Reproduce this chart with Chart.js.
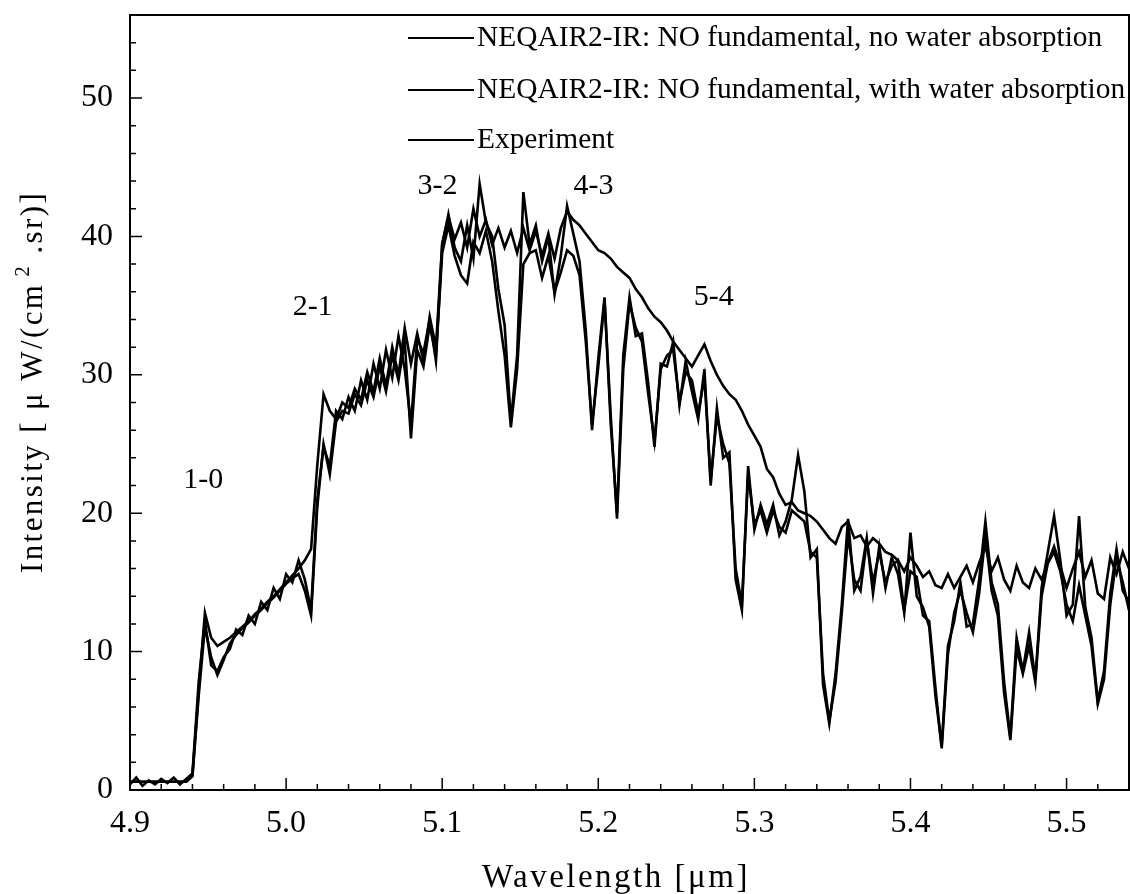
<!DOCTYPE html>
<html>
<head>
<meta charset="utf-8">
<script src="https://cdn.jsdelivr.net/npm/chart.js@4.4.0/dist/chart.umd.min.js"></script>
<style>
  html, body { margin: 0; padding: 0; background: #fff; }
  #wrap { width: 1130px; height: 894px; }
</style>
</head>
<body>
<div id="wrap"><canvas id="spectrumChart" width="1130" height="894"></canvas></div>
<script>
// Wavelength grid [um]
const wavelength = [
    4.900, 4.904, 4.908, 4.912, 4.916, 4.920, 4.924, 4.928, 4.932, 4.936,
    4.940, 4.944, 4.948, 4.952, 4.956, 4.960, 4.964, 4.968, 4.972, 4.976,
    4.980, 4.984, 4.988, 4.992, 4.996, 5.000, 5.004, 5.008, 5.012, 5.016,
    5.020, 5.024, 5.028, 5.032, 5.036, 5.040, 5.044, 5.048, 5.052, 5.056,
    5.060, 5.064, 5.068, 5.072, 5.076, 5.080, 5.084, 5.088, 5.092, 5.096,
    5.100, 5.104, 5.108, 5.112, 5.116, 5.120, 5.124, 5.128, 5.132, 5.136,
    5.140, 5.144, 5.148, 5.152, 5.156, 5.160, 5.164, 5.168, 5.172, 5.176,
    5.180, 5.184, 5.188, 5.192, 5.196, 5.200, 5.204, 5.208, 5.212, 5.216,
    5.220, 5.224, 5.228, 5.232, 5.236, 5.240, 5.244, 5.248, 5.252, 5.256,
    5.260, 5.264, 5.268, 5.272, 5.276, 5.280, 5.284, 5.288, 5.292, 5.296,
    5.300, 5.304, 5.308, 5.312, 5.316, 5.320, 5.324, 5.328, 5.332, 5.336,
    5.340, 5.344, 5.348, 5.352, 5.356, 5.360, 5.364, 5.368, 5.372, 5.376,
    5.380, 5.384, 5.388, 5.392, 5.396, 5.400, 5.404, 5.408, 5.412, 5.416,
    5.420, 5.424, 5.428, 5.432, 5.436, 5.440, 5.444, 5.448, 5.452, 5.456,
    5.460, 5.464, 5.468, 5.472, 5.476, 5.480, 5.484, 5.488, 5.492, 5.496,
    5.500, 5.504, 5.508, 5.512, 5.516, 5.520, 5.524, 5.528, 5.532, 5.536,
    5.540
];

// NEQAIR2-IR, no water absorption
const noWater = [
    0.6, 0.6, 0.6, 0.6, 0.6, 0.6, 0.6, 0.6, 0.6, 0.6,
    1.0, 7.2, 12.8, 11.0, 10.4, 10.7, 11.0, 11.4, 11.8, 12.2,
    12.7, 13.1, 13.6, 14.0, 14.5, 15.0, 15.5, 16.0, 16.6, 17.4,
    23.5, 28.6, 27.4, 26.8, 28.0, 27.6, 29.0, 28.2, 30.2, 28.8,
    31.2, 29.2, 32.0, 30.0, 33.4, 30.8, 33.0, 31.0, 34.2, 32.0,
    39.5, 41.4, 39.8, 41.0, 39.2, 42.0, 40.0, 41.2, 39.4, 40.6,
    39.2, 40.4, 38.8, 40.6, 39.0, 40.4, 38.6, 40.2, 38.4, 40.6,
    41.8, 41.2, 40.8, 40.2, 39.6, 39.0, 38.8, 38.4, 37.8, 37.4,
    37.0, 36.2, 35.6, 34.8, 34.2, 33.8, 33.2, 32.4, 31.8, 31.2,
    30.6, 31.4, 32.2, 31.0, 30.0, 29.2, 28.6, 28.2, 27.4, 26.4,
    25.6, 24.8, 23.2, 22.6, 21.4, 20.6, 20.8, 20.2, 20.0, 19.8,
    19.4, 18.8, 18.2, 17.8, 19.0, 19.4, 18.2, 18.4, 17.6, 18.2,
    17.8, 17.2, 17.0, 16.6, 15.8, 16.8, 16.2, 15.4, 15.8, 14.8,
    14.6, 15.6, 14.6, 15.4, 16.2, 15.0, 16.4, 17.6, 15.8, 16.8,
    15.2, 14.4, 16.2, 15.0, 14.6, 16.0, 15.2, 16.4, 17.6, 16.2,
    14.6, 16.0, 17.2, 15.4, 16.6, 14.2, 13.8, 16.8, 15.6, 17.2,
    16.0
];

// NEQAIR2-IR, with water absorption
const withWater = [
    0.6, 0.6, 0.6, 0.6, 0.6, 0.6, 0.6, 0.6, 0.6, 0.6,
    1.0, 6.8, 11.8, 9.6, 8.3, 9.4, 10.6, 11.2, 11.7, 12.1,
    12.6, 13.0, 13.5, 13.9, 14.4, 14.9, 15.3, 15.6, 14.4, 12.6,
    20.5, 25.0, 22.8, 26.6, 27.4, 27.2, 28.6, 27.8, 29.6, 28.4,
    30.6, 28.8, 31.4, 29.6, 32.4, 25.4, 31.8, 30.6, 33.6, 31.4,
    38.8, 40.8, 38.6, 37.2, 36.6, 39.6, 38.8, 40.4, 38.2, 34.6,
    31.4, 26.2, 30.4, 38.0, 38.8, 39.0, 37.0, 38.6, 36.0, 37.4,
    39.0, 38.6, 37.2, 32.4, 26.4, 30.6, 35.4, 27.0, 19.6, 30.4,
    35.2, 33.4, 32.4, 28.6, 25.2, 30.4, 31.4, 31.8, 28.0, 30.2,
    29.6, 27.2, 29.8, 22.4, 27.0, 25.0, 23.6, 16.0, 13.4, 22.8,
    19.2, 20.2, 18.6, 20.2, 19.0, 18.6, 20.2, 19.8, 19.4, 17.2,
    16.8, 8.4, 5.0, 7.8, 12.8, 18.4, 15.2, 14.4, 18.0, 15.0,
    17.2, 15.0, 16.2, 16.6, 13.0, 15.8, 15.4, 12.6, 12.2, 7.4,
    3.0, 9.8, 12.8, 14.4, 12.8, 11.4, 14.2, 18.4, 14.4, 12.6,
    7.0, 3.6, 10.2, 8.4, 10.4, 7.8, 14.0, 16.4, 17.2, 15.8,
    13.4, 12.2, 14.8, 12.6, 10.4, 6.2, 8.0, 13.4, 16.8, 15.0,
    13.0
];

// Experiment
const experiment = [
    0.4, 0.9, 0.3, 0.7, 0.4, 0.8, 0.5, 0.9, 0.4, 0.8,
    1.2, 7.8, 12.2, 9.0, 8.6, 9.6, 10.2, 11.6, 11.2, 12.6,
    12.0, 13.6, 13.0, 14.6, 13.8, 15.6, 15.0, 16.6, 15.2, 13.0,
    21.0, 24.8, 23.4, 27.4, 26.8, 28.4, 27.4, 29.6, 28.2, 30.8,
    29.0, 31.8, 29.8, 32.8, 30.4, 26.4, 32.6, 31.6, 34.0, 31.0,
    39.4, 41.6, 39.2, 38.2, 40.8, 38.4, 43.8, 41.0, 40.0, 36.2,
    33.6, 26.6, 31.4, 43.2, 39.4, 40.8, 38.2, 40.0, 35.8, 38.6,
    42.2, 40.2, 38.2, 33.2, 26.0, 31.2, 35.6, 26.4, 20.0, 31.4,
    35.6, 32.8, 33.0, 29.4, 24.8, 30.8, 30.6, 32.4, 27.8, 31.0,
    28.8, 26.8, 30.4, 22.0, 27.6, 24.0, 24.4, 15.2, 13.0, 23.4,
    18.8, 20.6, 19.2, 20.6, 18.4, 19.4, 21.0, 24.2, 21.6, 16.8,
    17.4, 7.6, 4.8, 8.4, 13.4, 19.6, 14.4, 15.4, 18.2, 14.2,
    17.6, 14.6, 16.8, 15.6, 12.8, 18.6, 14.0, 13.2, 11.8, 6.8,
    3.2, 10.4, 12.2, 15.0, 11.8, 12.0, 15.2, 19.4, 15.0, 13.4,
    7.8, 3.8, 11.0, 8.6, 11.4, 8.0, 14.6, 17.2, 19.8, 16.6,
    12.6, 13.4, 19.8, 13.2, 11.0, 6.4, 8.6, 14.2, 17.4, 14.4,
    13.6
];

const seriesLabels = [
    "NEQAIR2-IR: NO fundamental, no water absorption",
    "NEQAIR2-IR: NO fundamental, with water absorption",
    "Experiment"
];

// vibrational band labels
const bandLabels = ["1-0", "2-1", "3-2", "4-3", "5-4"];
const bandX = [4.947, 5.017, 5.097, 5.197, 5.274];
const bandY = [22.4, 34.9, 43.6, 43.6, 35.6];

const xTicks = [4.9, 5.0, 5.1, 5.2, 5.3, 5.4, 5.5];
const yTicks = [0, 10, 20, 30, 40, 50];

const xTitle = "Wavelength [μm]";
const yTitleParts = ["Intensity [ μ W/(cm", "2", " .sr)]"];

const SERIF = "'Liberation Serif', 'Times New Roman', serif";

function toPoints(values) {
    return wavelength.map((w, i) => ({ x: w, y: values[i] }));
}

// box frame, inward ticks, axis titles, legend and band labels
const decorations = {
    id: "decorations",
    afterDatasetsDraw(chart) {
        const { ctx, chartArea: a, scales: { x, y } } = chart;
        ctx.save();
        ctx.strokeStyle = "#000";
        ctx.fillStyle = "#000";

        ctx.lineWidth = 1.5;
        ctx.beginPath();
        for (let k = 0; k <= 32; k++) {
            const px = x.getPixelForValue(4.9 + k * 0.02);
            const len = k % 5 === 0 ? 12 : 6;
            ctx.moveTo(px, a.bottom);
            ctx.lineTo(px, a.bottom - len);
        }
        for (let v = 0; v <= 56; v += 2) {
            const py = y.getPixelForValue(v);
            const len = v % 10 === 0 ? 12 : 6;
            ctx.moveTo(a.left, py);
            ctx.lineTo(a.left + len, py);
        }
        ctx.stroke();

        ctx.lineWidth = 2;
        ctx.strokeRect(a.left, a.top, a.right - a.left, a.bottom - a.top);

        // x title
        ctx.letterSpacing = "2.5px";
        ctx.font = "33px " + SERIF;
        ctx.textAlign = "left";
        ctx.textBaseline = "alphabetic";
        ctx.fillText(xTitle, 482, 887);

        // y title (rotated, with superscript 2)
        ctx.save();
        ctx.translate(42, 573);
        ctx.rotate(-Math.PI / 2);
        ctx.letterSpacing = "2.4px";
        ctx.font = "31px " + SERIF;
        let pos = 0;
        ctx.fillText(yTitleParts[0], pos, 0);
        pos += ctx.measureText(yTitleParts[0]).width + 6;
        ctx.font = "21px " + SERIF;
        ctx.fillText(yTitleParts[1], pos, -13);
        pos += ctx.measureText(yTitleParts[1]).width;
        ctx.font = "31px " + SERIF;
        ctx.fillText(yTitleParts[2], pos, 0);
        ctx.restore();
        ctx.letterSpacing = "0px";

        // legend
        const rowY = [38, 90, 140];
        ctx.font = "29.4px " + SERIF;
        ctx.textAlign = "left";
        ctx.textBaseline = "middle";
        chart.data.datasets.forEach((ds, i) => {
            ctx.lineWidth = 2;
            ctx.beginPath();
            ctx.moveTo(408, rowY[i]);
            ctx.lineTo(474, rowY[i]);
            ctx.stroke();
            ctx.fillText(ds.label, 477, rowY[i]);
        });

        // band labels
        ctx.font = "30px " + SERIF;
        ctx.textAlign = "center";
        bandLabels.forEach((t, i) => {
            ctx.fillText(t, x.getPixelForValue(bandX[i]), y.getPixelForValue(bandY[i]));
        });
        ctx.restore();
    }
};

const datasets = [noWater, withWater, experiment].map((vals, i) => ({
    label: seriesLabels[i],
    data: toPoints(vals),
    borderColor: "#000",
    borderWidth: 2.6,
    pointRadius: 0,
    fill: false,
    tension: 0
}));

new Chart(document.getElementById("spectrumChart").getContext("2d"), {
    type: "line",
    data: { datasets: datasets },
    options: {
        responsive: false,
        animation: false,
        layout: { padding: { top: 15, right: 1, left: 0, bottom: 0 } },
        plugins: {
            legend: { display: false },
            tooltip: { enabled: false }
        },
        scales: {
            x: {
                type: "linear",
                min: 4.9,
                max: 5.54,
                afterBuildTicks: s => { s.ticks = xTicks.map(v => ({ value: v })); },
                afterFit: s => {
                    s.height = 104;
                    s.paddingLeft = 0;
                    s.paddingRight = 0;
                },
                grid: { display: false, drawTicks: false },
                border: { display: false },
                ticks: {
                    padding: 14,
                    color: "#000",
                    maxRotation: 0,
                    autoSkip: false,
                    font: { family: SERIF, size: 32 },
                    callback: v => Number(v).toFixed(1)
                },
                title: { display: false }
            },
            y: {
                type: "linear",
                min: 0,
                max: 56,
                afterBuildTicks: s => { s.ticks = yTicks.map(v => ({ value: v })); },
                afterFit: s => {
                    s.width = 130;
                    s.paddingTop = 0;
                    s.paddingBottom = 0;
                },
                grid: { display: false, drawTicks: false },
                border: { display: false },
                ticks: {
                    padding: 17,
                    color: "#000",
                    font: { family: SERIF, size: 32 },
                    callback: v => String(v)
                },
                title: { display: false }
            }
        }
    },
    plugins: [decorations]
});
</script>
</body>
</html>
